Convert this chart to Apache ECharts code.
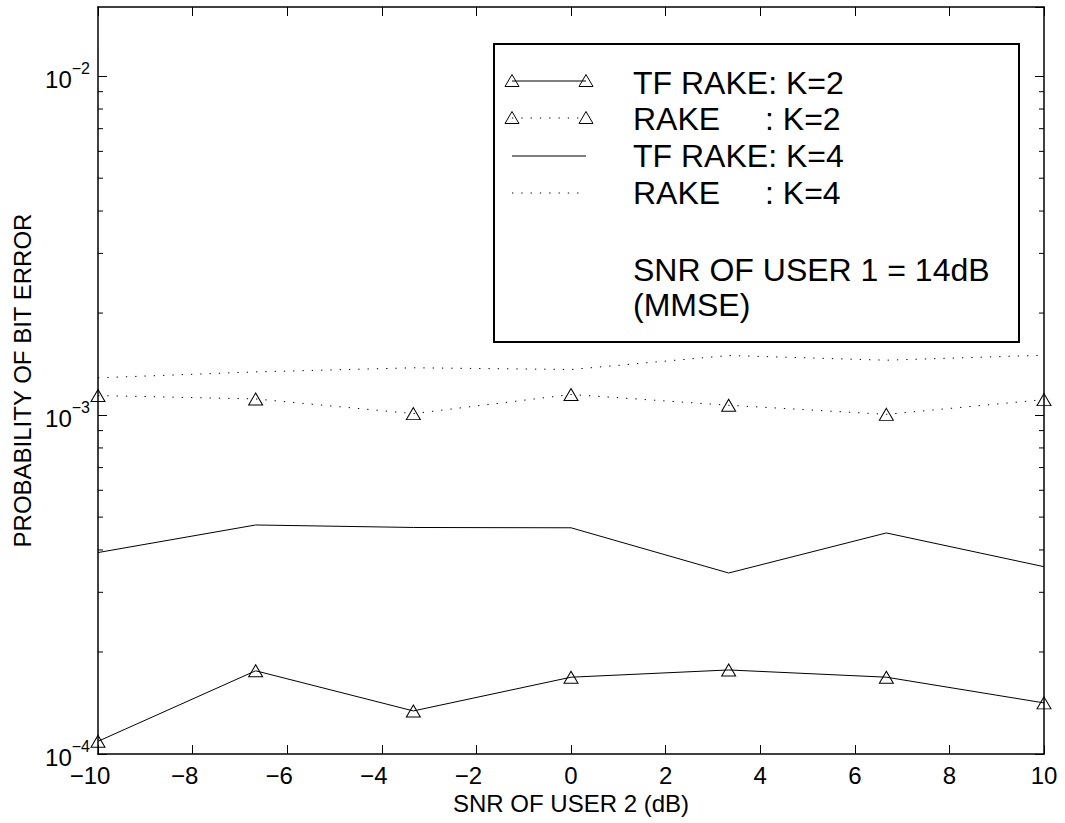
<!DOCTYPE html>
<html>
<head>
<meta charset="utf-8">
<script src="https://cdn.jsdelivr.net/npm/echarts@6/dist/echarts.min.js"></script>
<style>
  html, body { margin: 0; padding: 0; background: #fff; }
  #chart { width: 1065px; height: 823px; }
</style>
</head>
<body>
<div id="chart"></div>
<script>
// SNR of user 2 (dB)
const snrUser2 = [-10, -6.667, -3.333, 0, 3.333, 6.667, 10];

// Probability of bit error for each receiver / number of users
const tfRakeK2 = [1.09e-4, 1.76e-4, 1.34e-4, 1.685e-4, 1.77e-4, 1.685e-4, 1.415e-4];
const rakeK2   = [1.142e-3, 1.116e-3, 1.010e-3, 1.150e-3, 1.069e-3, 1.005e-3, 1.111e-3];
const tfRakeK4 = [3.93e-4, 4.74e-4, 4.66e-4, 4.65e-4, 3.42e-4, 4.49e-4, 3.57e-4];
const rakeK4   = [1.288e-3, 1.341e-3, 1.379e-3, 1.363e-3, 1.499e-3, 1.452e-3, 1.502e-3];

// Legend entries and annotation
const legendNames = ['TF RAKE: K=2', 'RAKE', 'TF RAKE: K=4', 'RAKE'];
const legendSuffix = ['', ': K=2', '', ': K=4'];
const noteLines = ['SNR OF USER 1 = 14dB', '(MMSE)'];

// Axis texts and ranges
const xTitle = 'SNR OF USER 2 (dB)';
const yTitle = 'PROBABILITY OF BIT ERROR';
const yMin = 1e-4, yMax = 0.016;
const xMin = -10, xMax = 10, xStep = 2;

// Log-axis minor tick values (2..9 within each decade)
const minorTickValues = [2e-4, 3e-4, 4e-4, 5e-4, 6e-4, 7e-4, 8e-4, 9e-4,
                         2e-3, 3e-3, 4e-3, 5e-3, 6e-3, 7e-3, 8e-3, 9e-3];

const FONT = '"Liberation Sans", Arial, Helvetica, sans-serif';
const MINUS = '\u2212';

function pairs(ys) { return snrUser2.map((x, i) => [x, ys[i]]); }

const DOTTED = [1.3, 8];
const triStyle = { color: 'rgba(0,0,0,0)', borderColor: '#000', borderWidth: 1 };

const chart = echarts.init(document.getElementById('chart'), null, { renderer: 'svg' });

// Legend box geometry
const box = { x: 494, y: 44, w: 525, h: 298 };
const rowY = [81, 118, 156, 193];
const textY = [82.5, 119, 156, 192.5];
const noteY = [270, 304.5];
const textX = 633, suffixX = 765;
const sampleX0 = 512, sampleX1 = 586;

function triangle(cx, cy) {
  return {
    type: 'polygon', z: 101,
    shape: { points: [[cx, cy - 6.5], [cx + 7, cy + 5.5], [cx - 7, cy + 5.5]] },
    style: { fill: 'none', stroke: '#000', lineWidth: 1 }
  };
}
function sampleLine(y, dotted) {
  return {
    type: 'line', z: 100,
    shape: { x1: sampleX0, y1: y, x2: sampleX1, y2: y },
    style: { stroke: '#000', lineWidth: 1, lineDash: dotted ? DOTTED : null }
  };
}
function label(str, x, y) {
  return {
    type: 'text', z: 101, x: x, y: y,
    style: { text: str, font: '32px ' + FONT, fill: '#000', verticalAlign: 'middle', align: 'left' }
  };
}

const graphics = [
  { type: 'rect', z: 99, shape: { x: box.x, y: box.y, width: box.w, height: box.h },
    style: { fill: '#fff', stroke: '#000', lineWidth: 2 } },
  sampleLine(rowY[0], false), triangle(sampleX0, rowY[0]), triangle(sampleX1, rowY[0]),
  sampleLine(rowY[1], true), triangle(sampleX0, rowY[1]), triangle(sampleX1, rowY[1]),
  sampleLine(rowY[2], false),
  sampleLine(rowY[3], true)
];
legendNames.forEach((n, i) => {
  graphics.push(label(n, textX, textY[i]));
  if (legendSuffix[i]) graphics.push(label(legendSuffix[i], suffixX, textY[i]));
});
noteLines.forEach((n, i) => graphics.push(label(n, textX, noteY[i])));

function yLabel(v) {
  const e = Math.log10(v);
  const r = Math.round(e);
  if (Math.abs(e - r) > 1e-6) return '';
  return '{b|10}{s|' + (r < 0 ? MINUS + (-r) : r) + '}';
}
function xLabel(v) {
  if (v < 0) return '{n|' + MINUS + (-v) + '}';
  return '{p|' + v + '}';
}

const axisLine = { show: true, onZero: false, lineStyle: { color: '#000', width: 1.5 } };
const majorTick = { show: true, inside: true, length: 9, lineStyle: { color: '#000', width: 1 } };

chart.setOption({
  animation: false,
  backgroundColor: '#fff',
  grid: { left: 98, right: 21, top: 7, bottom: 69, containLabel: false },
  xAxis: [
    {
      type: 'value', min: xMin, max: xMax, interval: xStep, position: 'bottom',
      axisLine: axisLine, axisTick: majorTick, splitLine: { show: false },
      axisLabel: {
        margin: 9, formatter: xLabel, color: '#000',
        rich: {
          n: { fontSize: 24, fontFamily: FONT, color: '#000', padding: [0, 16, 0, 0] },
          p: { fontSize: 24, fontFamily: FONT, color: '#000' }
        }
      },
      name: xTitle, nameLocation: 'middle', nameGap: 36,
      nameTextStyle: { fontSize: 24, fontFamily: FONT, color: '#000' }
    },
    {
      type: 'value', min: xMin, max: xMax, interval: xStep, position: 'top',
      axisLine: axisLine, axisTick: majorTick, axisLabel: { show: false }, splitLine: { show: false }
    }
  ],
  yAxis: [
    {
      type: 'log', logBase: 10, min: yMin, max: yMax, position: 'left',
      axisLine: axisLine, axisTick: majorTick, splitLine: { show: false }, minorTick: { show: false },
      axisLabel: {
        margin: 8, formatter: yLabel, showMaxLabel: false, color: '#000',
        rich: {
          b: { fontSize: 24, fontFamily: FONT, color: '#000', padding: [7, 0, 0, 0] },
          s: { fontSize: 16, fontFamily: FONT, color: '#000', verticalAlign: 'top' }
        }
      },
      name: yTitle, nameLocation: 'middle', nameRotate: 90, nameGap: 62,
      nameTextStyle: { fontSize: 24, fontFamily: FONT, color: '#000' }
    },
    {
      type: 'log', logBase: 10, min: yMin, max: yMax, position: 'right',
      axisLine: axisLine, axisTick: majorTick, axisLabel: { show: false }, splitLine: { show: false }
    }
  ],
  series: [
    {
      name: 'TF RAKE: K=2', type: 'line', data: pairs(tfRakeK2),
      symbol: 'triangle', symbolSize: [14, 12], itemStyle: triStyle,
      lineStyle: { color: '#000', width: 1 }, emphasis: { disabled: true }, z: 3
    },
    {
      name: 'RAKE : K=2', type: 'line', data: pairs(rakeK2),
      symbol: 'triangle', symbolSize: [14, 12], itemStyle: triStyle,
      lineStyle: { color: '#000', width: 1, type: DOTTED }, emphasis: { disabled: true }, z: 3
    },
    {
      name: 'TF RAKE: K=4', type: 'line', data: pairs(tfRakeK4), symbol: 'none',
      lineStyle: { color: '#000', width: 1 }, emphasis: { disabled: true }, z: 2
    },
    {
      name: 'RAKE : K=4', type: 'line', data: pairs(rakeK4), symbol: 'none',
      lineStyle: { color: '#000', width: 1, type: DOTTED }, emphasis: { disabled: true }, z: 2
    },
    {
      // minor ticks of the log axis on both the left and right frame edges
      type: 'custom', silent: true, clip: false, z: 5,
      data: minorTickValues.map(v => [xMin, v]),
      renderItem: function (params, api) {
        const pL = api.coord([xMin, api.value(1)]);
        const pR = api.coord([xMax, api.value(1)]);
        const st = { stroke: '#000', lineWidth: 1 };
        return {
          type: 'group',
          children: [
            { type: 'line', shape: { x1: pL[0], y1: pL[1], x2: pL[0] + 5, y2: pL[1] }, style: st },
            { type: 'line', shape: { x1: pR[0] - 5, y1: pR[1], x2: pR[0], y2: pR[1] }, style: st }
          ]
        };
      }
    }
  ],
  graphic: graphics
});
</script>
</body>
</html>
